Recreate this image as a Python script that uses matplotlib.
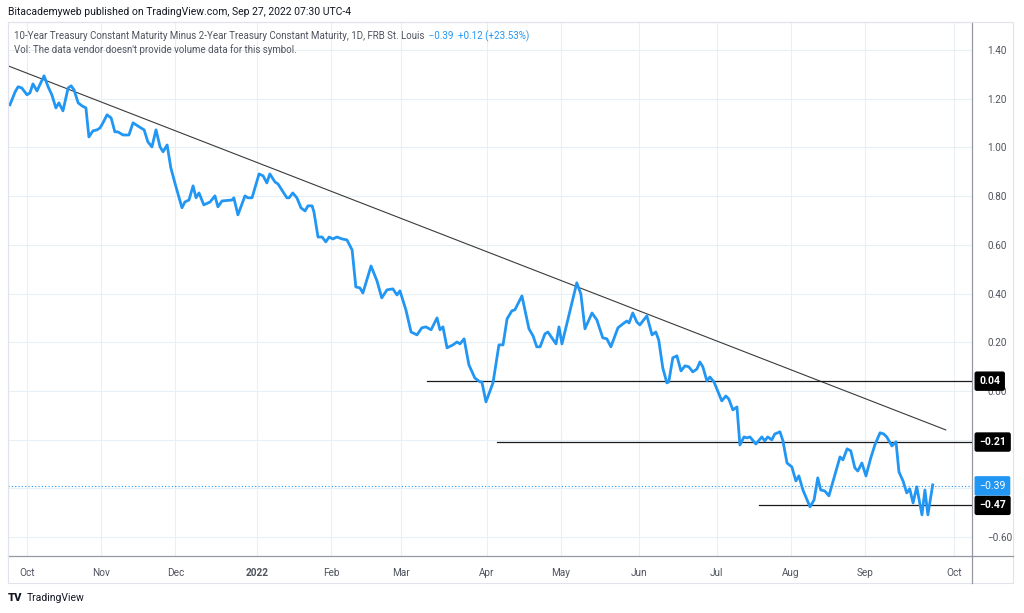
import matplotlib
matplotlib.use("Agg")
import matplotlib.pyplot as plt
from matplotlib.patches import Rectangle
from matplotlib.lines import Line2D
from matplotlib.transforms import blended_transform_factory

# ---------------- data (x = trading-day index from 1 Oct 2021) ----------------
bars = [-4.6,-3.2,-2.4,-1.4,0,0.8,1.6,2.7,4.6,5.7,
        6.7,7.8,8.6,9.7,11.1,11.9,12.7,13.8,14.8,15.9,
        16.7,17.8,18.9,19.7,20.5,21.6,22.7,23.7,24.5,25.9,
        27.5,28.6,29.9,31.6,32.6,33.7,34.8,35.9,36.7,37.8,
        38.8,39.9,41.8,42.6,43.7,44.8,45.6,46.4,47.7,49.4,
        50.7,51.5,52.6,55.3,55.8,56.9,58.8,59.6,60.7,62.6,
        63.7,64.7,65.5,66.9,67.7,70.1,70.7,71.7,72.8,73.9,
        75.0,75.8,76.9,77.4,78.5,79.6,80.6,81.5,82.5,83.6,
        85.0,86.3,87.7,88.7,89.8,90.6,92.8,94.4,95.7,97.1,
        98.7,99.8,100.6,102.2,103.6,105.2,106.5,107.6,109.0,110.6,
        111.4,112.2,113.3,114.9,116.0,116.8,117.9,119.2,120.8,122.2,
        122.7,123.8,125.7,127.3,128.4,129.5,130.8,131.6,133.5,135.4,
        136.5,137.5,138.4,139.7,140.5,142.7,143.5,144.3,148.3,149.4,
        150.5,152.4,153.7,155.3,156.4,157.5,159.4,160.7,161.8,162.4,
        163.4,164.5,165.3,167.2,168.6,169.6,170.4,171.5,172.6,173.1,
        174.2,175.3,176.4,177.5,178.5,179.6,180.7,181.5,182.3,183.4,
        184.2,185.3,186.4,187.4,188.5,189.3,190.4,191.5,192.3,193.4,
        194.2,195.0,196.6,198.2,199.0,199.8,200.9,201.7,203.1,203.9,
        205.0,206.3,207.4,208.2,209.3,211.2,212.3,213.3,214.1,215.2,
        216.3,217.9,219.3,220.1,221.2,222.2,223.3,224.1,225.2,226.3,
        227.6,228.7,230.1,231.1,231.9,233.3,234.4,235.2,236.3,237.3,
        238.1,239.0,240.0,241.4,242.2,243.0,244.3]

spread = [1.175,1.228,1.249,1.244,1.216,1.224,1.261,1.232,1.294,1.249,
          1.216,1.162,1.183,1.150,1.244,1.253,1.236,1.183,1.171,1.162,
          1.043,1.068,1.072,1.080,1.101,1.134,1.121,1.064,1.064,1.051,
          1.051,1.101,1.088,1.072,1.023,1.002,1.072,1.002,0.982,1.010,
          0.916,0.854,0.752,0.776,0.784,0.842,0.793,0.813,0.764,0.776,
          0.801,0.756,0.780,0.784,0.793,0.723,0.801,0.793,0.793,0.891,
          0.883,0.854,0.891,0.858,0.850,0.793,0.793,0.813,0.793,0.752,
          0.739,0.760,0.760,0.735,0.632,0.632,0.612,0.632,0.624,0.632,
          0.624,0.620,0.579,0.427,0.423,0.402,0.513,0.452,0.382,0.415,
          0.419,0.394,0.411,0.333,0.242,0.230,0.259,0.263,0.251,0.300,
          0.251,0.263,0.177,0.189,0.201,0.193,0.214,0.107,0.053,0.037,
          0.037,-0.045,0.033,0.189,0.189,0.296,0.329,0.333,0.390,0.255,
          0.226,0.181,0.181,0.234,0.242,0.193,0.263,0.193,0.444,0.398,
          0.255,0.320,0.292,0.218,0.214,0.181,0.259,0.275,0.287,0.279,
          0.320,0.283,0.271,0.308,0.230,0.242,0.209,0.094,0.033,0.037,
          0.136,0.144,0.082,0.103,0.099,0.078,0.090,0.119,0.099,0.041,
          0.057,0.037,-0.004,-0.041,-0.021,-0.033,-0.078,-0.066,-0.222,-0.189,
          -0.193,-0.189,-0.218,-0.189,-0.205,-0.189,-0.201,-0.177,-0.168,-0.205,
          -0.296,-0.312,-0.370,-0.349,-0.407,-0.476,-0.448,-0.357,-0.407,-0.411,
          -0.431,-0.345,-0.271,-0.283,-0.238,-0.246,-0.316,-0.329,-0.296,-0.349,
          -0.275,-0.222,-0.172,-0.177,-0.189,-0.226,-0.209,-0.333,-0.370,-0.419,
          -0.402,-0.460,-0.394,-0.509,-0.407,-0.509,-0.386]

month_ticks = [0, 20, 40, 62, 82, 101, 124, 144, 165, 186, 206, 226, 250]
month_labels = ["Oct", "Nov", "Dec", "2022", "Feb", "Mar", "Apr", "May",
                "Jun", "Jul", "Aug", "Sep", "Oct"]

price_ticks = [1.40, 1.20, 1.00, 0.80, 0.60, 0.40, 0.20, 0.00, -0.20, -0.40, -0.60]
hidden_ticks = [-0.20, -0.40]   # covered by the level/price labels in the reference

trend_x = [-5.1, 247.8]
trend_y = [1.335, -0.160]

level_values = [0.04, -0.21, -0.47]
level_starts = [107.9, 126.8, 197.4]
level_labels = ["0.04", "\u22120.21", "\u22120.47"]

last_value = -0.39
last_label = "\u22120.39"

# ---------------- figure ----------------
plt.rcParams['font.family'] = ['Roboto', 'DejaVu Sans']
W, H = 1024, 613
fig = plt.figure(figsize=(W / 100, H / 100), dpi=100)
fig.patch.set_facecolor('white')

L, R, T, B = 8, 972, 22, 556
ax = fig.add_axes([L / W, 1 - B / H, (R - L) / W, (B - T) / H])
ax.set_xlim(-5.12, 254.9)
ax.set_ylim(-0.678, 1.515)

BLUE = '#2196f3'
GRID = '#e8eff5'
TXT = '#50535e'

ax.set_xticks(month_ticks)
ax.set_xticklabels(month_labels)
for lbl in ax.get_xticklabels():
    if lbl.get_text() == "2022":
        lbl.set_fontweight('bold')
        lbl.set_color('#2a2e39')
ax.set_yticks(price_ticks)
ax.set_yticklabels(["" if any(abs(v - h) < 1e-9 for h in hidden_ticks)
                    else f"{v:.2f}".replace("-", "\u2212") for v in price_ticks])
ax.yaxis.tick_right()
ax.tick_params(axis='both', length=0, labelsize=7.2, labelcolor=TXT)
ax.tick_params(axis='x', pad=9)
ax.tick_params(axis='y', pad=11)
ax.grid(True, color=GRID, linewidth=0.8)
ax.set_axisbelow(True)

for s in ['left', 'top']:
    ax.spines[s].set_color('#e0e3eb')
    ax.spines[s].set_linewidth(0.8)
ax.spines['right'].set_color('#9598a1')
ax.spines['right'].set_linewidth(0.9)
ax.spines['bottom'].set_color('#9598a1')
ax.spines['bottom'].set_linewidth(0.9)

# series
ax.plot(bars, spread, color=BLUE, linewidth=2.0, solid_joinstyle='round', zorder=4)

# trend line
ax.plot(trend_x, trend_y, color='#3a3a3a', linewidth=0.8, zorder=3)

# horizontal levels
xmax = ax.get_xlim()[1]
for v, s in zip(level_values, level_starts):
    ax.plot([s, xmax], [v, v], color='#1a1a1a', linewidth=0.9, zorder=3)

# last price dotted line
ax.axhline(last_value, color=BLUE, linewidth=0.8, linestyle=(0, (1, 2)), zorder=2)

# labels on price axis
tr = blended_transform_factory(ax.transAxes, ax.transData)
for v, t in zip(level_values, level_labels):
    ax.text(1.0075, v, t, transform=tr, ha='left', va='center', fontsize=7.6,
            color='white', fontweight='bold', clip_on=False, zorder=10,
            bbox=dict(boxstyle='round,pad=0.38,rounding_size=0.15', fc='black', ec='black'))
ax.text(1.0075, last_value, last_label, transform=tr, ha='left', va='center', fontsize=7.6,
        color='white', clip_on=False, zorder=10,
        bbox=dict(boxstyle='round,pad=0.38,rounding_size=0.1', fc=BLUE, ec=BLUE))

# legend texts inside chart
t1 = ax.text(6 / (R - L), 1 - 14 / (B - T),
             "10-Year Treasury Constant Maturity Minus 2-Year Treasury Constant Maturity, 1D, FRB St. Louis",
             transform=ax.transAxes, fontsize=7, color=TXT, va='center', ha='left', zorder=11)
ax.annotate("  \u22120.39  +0.12 (+23.53%)", xy=(1, 0.5), xycoords=t1, va='center', ha='left',
            fontsize=7, color=BLUE, zorder=11)
ax.text(6 / (R - L), 1 - 28 / (B - T), "Vol: The data vendor doesn't provide volume data for this symbol.",
        transform=ax.transAxes, fontsize=7, color=TXT, va='center', ha='left', zorder=11)

# frame / outer lines
fig.add_artist(Rectangle((L / W, 1 - 583 / H), (1013 - L) / W, (583 - T) / H,
                         transform=fig.transFigure, fill=False, ec='#e0e3eb', lw=0.8))
fig.add_artist(Line2D([R / W, R / W], [1 - 583 / H, 1 - B / H], transform=fig.transFigure,
                      color='#9598a1', lw=0.9))
fig.add_artist(Line2D([R / W, 1013 / W], [1 - B / H, 1 - B / H], transform=fig.transFigure,
                      color='#9598a1', lw=0.9))

# header and footer
fig.text(8 / W, 1 - 12 / H, "Bitacademyweb published on TradingView.com, Sep 27, 2022 07:30 UTC-4",
         fontsize=7.5, color='#131722', ha='left', va='center')
fig.text(8 / W, 1 - 598 / H, "TV", fontsize=8, fontweight='black', color='#131722',
         ha='left', va='center')
fig.text(27 / W, 1 - 598 / H, "TradingView", fontsize=7.5, color='#131722', ha='left', va='center')

fig.savefig("out.png", dpi=100, facecolor='white')
